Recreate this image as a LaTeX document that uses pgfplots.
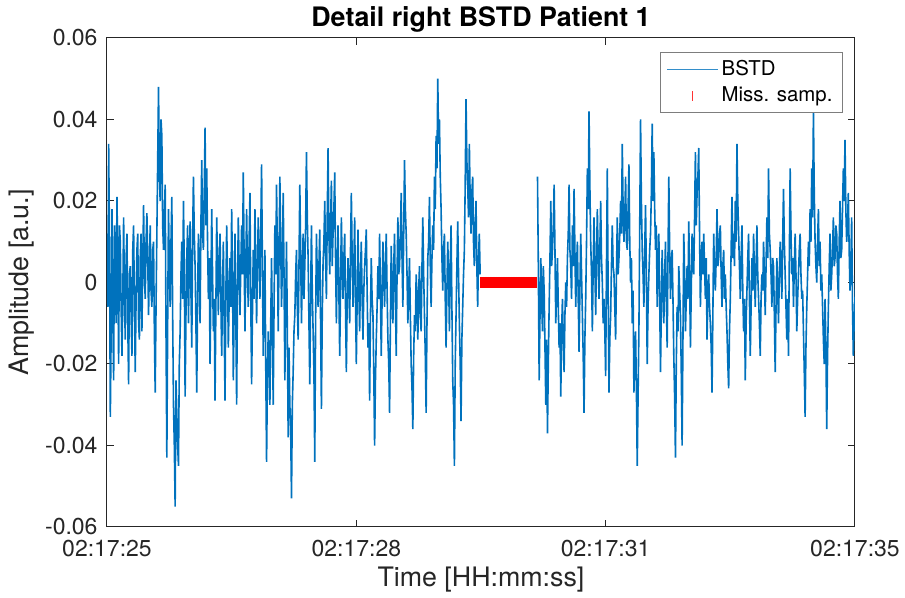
\documentclass[border=0pt]{standalone}
\usepackage{fontspec}
\setmainfont{TeX Gyre Heros}
\usepackage{pgfplots}
\usepackage{pgfplotstable}
\pgfplotsset{compat=1.18}

\definecolor{bstd}{rgb}{0,0.447,0.741}
\definecolor{axgray}{rgb}{0.15,0.15,0.15}

% BSTD samples before the dropout (100 Hz, starting at 02:17:25)
\pgfplotstableread[row sep=\\]{
v\\
0.012\\ -0.006\\ 0.034\\ 0.010\\ -0.033\\ -0.012\\ 0.018\\ -0.008\\ -0.024\\ 0.014\\ 0.008\\ -0.010\\ 0.021\\ 0.004\\ -0.020\\ 0.014\\ 0.010\\ -0.006\\ -0.018\\ -0.004\\
0.016\\ -0.004\\ -0.014\\ 0.006\\ 0.012\\ -0.010\\ -0.025\\ 0.002\\ 0.004\\ -0.008\\ -0.018\\ 0.008\\ 0.014\\ -0.006\\ -0.022\\ -0.004\\ 0.008\\ 0.012\\ -0.010\\ -0.014\\
0.006\\ 0.012\\ -0.012\\ 0.004\\ 0.019\\ 0.002\\ -0.004\\ 0.010\\ 0.017\\ 0.006\\ -0.008\\ 0.004\\ 0.014\\ -0.002\\ -0.006\\ 0.008\\ 0.010\\ -0.012\\ -0.027\\ -0.006\\
0.012\\ 0.030\\ 0.048\\ 0.026\\ 0.020\\ 0.040\\ 0.036\\ 0.014\\ 0.008\\ 0.016\\ 0.024\\ -0.012\\ -0.043\\ -0.010\\ 0.018\\ 0.004\\ -0.006\\ 0.010\\ 0.021\\ -0.008\\
-0.030\\ -0.040\\ -0.055\\ -0.024\\ -0.032\\ -0.040\\ -0.045\\ -0.020\\ -0.012\\ 0.002\\ 0.010\\ -0.004\\ 0.020\\ 0.004\\ -0.028\\ -0.008\\ 0.006\\ 0.014\\ -0.010\\ 0.004\\
0.015\\ -0.002\\ -0.016\\ 0.010\\ 0.026\\ 0.012\\ 0.004\\ -0.010\\ -0.027\\ -0.004\\ 0.012\\ 0.002\\ -0.010\\ 0.014\\ 0.030\\ 0.012\\ 0.008\\ 0.022\\ 0.038\\ 0.014\\
0.028\\ 0.010\\ -0.004\\ 0.006\\ -0.020\\ -0.002\\ 0.018\\ 0.002\\ -0.012\\ -0.004\\ -0.029\\ -0.006\\ 0.016\\ 0.004\\ -0.008\\ 0.006\\ 0.012\\ -0.004\\ -0.018\\ -0.002\\
0.010\\ -0.010\\ -0.029\\ -0.004\\ 0.014\\ 0.002\\ -0.016\\ -0.004\\ 0.006\\ -0.006\\ 0.018\\ 0.002\\ -0.024\\ -0.006\\ 0.012\\ -0.008\\ -0.030\\ -0.002\\ 0.016\\ 0.004\\
-0.008\\ 0.004\\ 0.014\\ 0.002\\ 0.027\\ 0.006\\ -0.012\\ 0.004\\ 0.018\\ 0.002\\ -0.006\\ 0.010\\ 0.022\\ -0.004\\ -0.025\\ -0.008\\ 0.008\\ -0.004\\ 0.018\\ 0.004\\
-0.010\\ 0.004\\ 0.016\\ 0.006\\ -0.004\\ 0.012\\ 0.029\\ 0.004\\ -0.018\\ -0.004\\ 0.008\\ -0.020\\ -0.044\\ -0.024\\ -0.012\\ -0.020\\ -0.030\\ -0.010\\ 0.006\\ -0.012\\
-0.030\\ -0.006\\ 0.014\\ 0.002\\ 0.024\\ 0.008\\ -0.012\\ 0.006\\ 0.026\\ 0.010\\ -0.006\\ 0.004\\ 0.022\\ 0.002\\ -0.024\\ -0.006\\ 0.010\\ -0.012\\ -0.038\\ -0.016\\
-0.030\\ -0.036\\ -0.053\\ -0.030\\ -0.022\\ -0.012\\ -0.008\\ 0.002\\ 0.008\\ -0.006\\ -0.014\\ 0.004\\ 0.024\\ 0.008\\ -0.010\\ 0.002\\ 0.012\\ -0.004\\ 0.004\\ 0.014\\
0.032\\ 0.016\\ 0.006\\ -0.010\\ -0.025\\ -0.004\\ 0.014\\ -0.002\\ -0.012\\ -0.022\\ -0.044\\ -0.010\\ 0.012\\ 0.002\\ -0.006\\ 0.004\\ 0.013\\ -0.010\\ -0.031\\ -0.008\\
0.005\\ 0.010\\ 0.020\\ 0.006\\ -0.004\\ 0.016\\ 0.033\\ 0.012\\ 0.002\\ 0.014\\ 0.025\\ 0.004\\ 0.012\\ 0.018\\ 0.027\\ 0.006\\ -0.010\\ 0.004\\ 0.014\\ -0.002\\
-0.018\\ -0.002\\ 0.016\\ 0.004\\ -0.004\\ 0.006\\ 0.012\\ -0.006\\ -0.022\\ -0.004\\ 0.006\\ -0.002\\ -0.010\\ 0.008\\ 0.022\\ 0.006\\ -0.006\\ 0.004\\ 0.016\\ -0.004\\
-0.020\\ -0.004\\ 0.013\\ -0.002\\ -0.012\\ 0.002\\ 0.010\\ -0.004\\ -0.014\\ -0.002\\ 0.004\\ 0.008\\ 0.013\\ -0.002\\ -0.016\\ -0.010\\ -0.029\\ -0.008\\ 0.006\\ -0.004\\
-0.008\\ -0.022\\ -0.040\\ -0.024\\ -0.014\\ -0.006\\ 0.004\\ -0.004\\ 0.012\\ -0.002\\ -0.018\\ -0.004\\ 0.010\\ 0.002\\ -0.006\\ 0.004\\ 0.012\\ -0.002\\ -0.014\\ -0.020\\
-0.032\\ -0.010\\ 0.009\\ -0.002\\ -0.010\\ 0.004\\ 0.012\\ -0.004\\ -0.018\\ 0.002\\ 0.016\\ 0.002\\ 0.004\\ 0.012\\ 0.022\\ 0.006\\ -0.006\\ 0.012\\ 0.030\\ 0.018\\
0.012\\ 0.002\\ -0.010\\ -0.002\\ 0.006\\ -0.008\\ -0.020\\ -0.026\\ -0.036\\ -0.018\\ -0.008\\ -0.012\\ 0.002\\ -0.004\\ -0.014\\ -0.002\\ 0.004\\ -0.008\\ -0.012\\ 0.004\\
0.016\\ 0.002\\ -0.008\\ -0.018\\ -0.032\\ -0.010\\ 0.006\\ 0.010\\ 0.021\\ 0.004\\ -0.006\\ 0.006\\ 0.014\\ 0.008\\ 0.026\\ 0.018\\ 0.036\\ 0.028\\ 0.050\\ 0.034\\
0.040\\ 0.026\\ 0.018\\ 0.006\\ -0.002\\ 0.008\\ 0.012\\ -0.004\\ -0.016\\ -0.002\\ 0.010\\ 0.002\\ -0.012\\ 0.004\\ 0.014\\ -0.006\\ -0.024\\ -0.030\\ -0.045\\ -0.020\\
-0.008\\ 0.004\\ 0.015\\ 0.002\\ -0.010\\ -0.020\\ -0.034\\ -0.014\\ -0.006\\ 0.002\\ 0.008\\ 0.024\\ 0.045\\ 0.030\\ 0.024\\ 0.016\\ 0.034\\ 0.020\\ 0.012\\ 0.022\\
0.026\\ 0.010\\ 0.004\\ 0.014\\ 0.020\\ 0.004\\ -0.006\\ 0.006\\ 0.012\\ 0.002\\
}\segA

% BSTD samples after the dropout
\pgfplotstableread[row sep=\\]{
v\\
0.026\\ 0.004\\ -0.024\\ -0.008\\ 0.006\\ -0.004\\ -0.012\\ 0.004\\ -0.002\\ -0.016\\ -0.030\\ -0.014\\ -0.037\\ -0.020\\ -0.006\\ 0.006\\ 0.020\\ 0.004\\ 0.008\\ 0.014\\
0.024\\ 0.008\\ -0.010\\ -0.002\\ 0.006\\ -0.006\\ -0.016\\ -0.010\\ -0.028\\ -0.012\\ -0.004\\ -0.014\\ -0.022\\ -0.008\\ 0.000\\ -0.006\\ 0.006\\ 0.012\\ 0.024\\ 0.008\\
0.004\\ -0.004\\ 0.014\\ 0.004\\ 0.023\\ 0.008\\ -0.006\\ 0.004\\ 0.010\\ -0.004\\ -0.017\\ -0.002\\ 0.012\\ 0.002\\ -0.008\\ -0.018\\ -0.032\\ -0.014\\ -0.004\\ 0.010\\
0.028\\ 0.018\\ 0.042\\ 0.024\\ 0.010\\ 0.002\\ -0.012\\ 0.004\\ 0.016\\ 0.004\\ -0.008\\ 0.006\\ 0.018\\ 0.006\\ -0.004\\ 0.008\\ 0.020\\ 0.006\\ 0.000\\ -0.010\\
-0.004\\ -0.012\\ -0.023\\ 0.004\\ 0.028\\ -0.002\\ -0.027\\ -0.014\\ -0.008\\ 0.004\\ 0.014\\ 0.004\\ 0.002\\ -0.006\\ -0.014\\ 0.002\\ 0.016\\ 0.002\\ 0.006\\ 0.012\\
0.020\\ 0.012\\ 0.034\\ 0.018\\ 0.010\\ 0.016\\ 0.026\\ 0.010\\ 0.008\\ 0.018\\ 0.029\\ 0.010\\ 0.000\\ 0.006\\ -0.010\\ -0.002\\ -0.027\\ -0.018\\ -0.012\\ -0.026\\
-0.045\\ -0.028\\ -0.012\\ 0.014\\ 0.040\\ 0.020\\ 0.008\\ 0.002\\ -0.006\\ 0.008\\ 0.019\\ 0.002\\ -0.020\\ -0.006\\ 0.002\\ 0.008\\ 0.012\\ 0.022\\ 0.039\\ 0.020\\
0.032\\ 0.018\\ 0.008\\ 0.014\\ -0.006\\ 0.002\\ 0.012\\ -0.004\\ -0.022\\ -0.006\\ 0.008\\ -0.002\\ -0.010\\ 0.002\\ 0.010\\ -0.004\\ -0.016\\ 0.006\\ 0.026\\ 0.008\\
-0.004\\ 0.004\\ 0.008\\ -0.004\\ -0.018\\ -0.028\\ -0.043\\ -0.020\\ -0.006\\ -0.012\\ 0.004\\ -0.002\\ -0.008\\ -0.022\\ -0.040\\ -0.014\\ 0.012\\ 0.002\\ -0.012\\ -0.004\\
0.004\\ -0.004\\ 0.015\\ 0.002\\ -0.016\\ -0.002\\ 0.012\\ 0.004\\ 0.002\\ 0.016\\ 0.032\\ 0.014\\ 0.022\\ 0.026\\ 0.033\\ 0.012\\ -0.006\\ 0.004\\ 0.010\\ 0.002\\
0.012\\ 0.004\\ -0.004\\ 0.006\\ -0.014\\ -0.004\\ 0.002\\ -0.006\\ -0.010\\ -0.016\\ -0.027\\ -0.008\\ 0.012\\ 0.002\\ -0.002\\ 0.006\\ 0.018\\ 0.004\\ 0.006\\ 0.012\\
0.014\\ 0.002\\ -0.006\\ 0.004\\ 0.008\\ -0.004\\ 0.002\\ -0.006\\ -0.012\\ -0.020\\ -0.026\\ -0.012\\ -0.004\\ 0.008\\ 0.021\\ 0.006\\ 0.012\\ 0.004\\ 0.020\\ 0.010\\
0.034\\ 0.020\\ 0.012\\ 0.004\\ -0.004\\ 0.006\\ 0.014\\ -0.002\\ -0.012\\ -0.004\\ -0.024\\ -0.010\\ -0.002\\ 0.006\\ 0.012\\ -0.004\\ -0.018\\ -0.006\\ 0.006\\ -0.002\\
0.012\\ 0.002\\ -0.006\\ 0.004\\ 0.014\\ 0.002\\ -0.004\\ -0.010\\ -0.018\\ -0.004\\ 0.002\\ -0.002\\ 0.010\\ 0.002\\ -0.008\\ 0.004\\ 0.016\\ 0.006\\ 0.028\\ 0.012\\
0.008\\ 0.002\\ -0.006\\ 0.006\\ 0.004\\ -0.008\\ -0.022\\ -0.006\\ 0.006\\ -0.002\\ -0.010\\ 0.002\\ 0.010\\ 0.004\\ -0.004\\ 0.010\\ 0.023\\ 0.010\\ 0.002\\ -0.006\\
-0.014\\ -0.004\\ -0.018\\ 0.006\\ 0.028\\ 0.012\\ 0.002\\ 0.006\\ -0.006\\ 0.004\\ 0.012\\ 0.002\\ -0.012\\ -0.004\\ 0.002\\ 0.008\\ 0.012\\ 0.002\\ -0.004\\ -0.002\\
-0.012\\ -0.022\\ -0.033\\ -0.016\\ -0.006\\ 0.002\\ 0.010\\ 0.004\\ 0.018\\ 0.010\\ 0.028\\ 0.016\\ 0.042\\ 0.022\\ 0.010\\ 0.004\\ 0.000\\ 0.010\\ 0.018\\ 0.004\\
0.010\\ -0.002\\ 0.002\\ -0.006\\ -0.014\\ -0.020\\ -0.004\\ -0.016\\ -0.036\\ -0.018\\ -0.006\\ 0.004\\ 0.012\\ -0.002\\ 0.002\\ 0.008\\ 0.016\\ 0.004\\ 0.006\\ 0.014\\
0.012\\ 0.002\\ -0.004\\ 0.010\\ 0.020\\ 0.006\\ 0.008\\ 0.018\\ 0.028\\ 0.020\\ 0.035\\ 0.018\\ 0.010\\ 0.014\\ 0.022\\ 0.008\\ -0.002\\ 0.004\\ 0.016\\ -0.006\\
-0.018\\ -0.010\\ -0.004\\ 0.002\\
}\segB

% Positions of the missing samples
\pgfplotstableread[row sep=\\]{
t v\\
4.50 0\\ 4.52 0\\ 4.54 0\\ 4.56 0\\ 4.58 0\\ 4.60 0\\ 4.62 0\\ 4.64 0\\ 4.66 0\\ 4.68 0\\
4.70 0\\ 4.72 0\\ 4.74 0\\ 4.76 0\\ 4.78 0\\ 4.80 0\\ 4.82 0\\ 4.84 0\\ 4.86 0\\ 4.88 0\\
4.90 0\\ 4.92 0\\ 4.94 0\\ 4.96 0\\ 4.98 0\\ 5.00 0\\ 5.02 0\\ 5.04 0\\ 5.06 0\\ 5.08 0\\
5.10 0\\ 5.12 0\\ 5.14 0\\ 5.16 0\\
}\missing

\begin{document}
\begin{tikzpicture}
\begin{axis}[
  at={(0,0)}, anchor=south west,
  scale only axis, width=374pt, height=244.5pt,
  xmin=0, xmax=9, ymin=-0.06, ymax=0.06,
  xtick={0,3,6,9},
  xticklabels={02:17:25,02:17:28,02:17:31,02:17:35},
  ytick={-0.06,-0.04,-0.02,0,0.02,0.04,0.06},
  yticklabels={-0.06,-0.04,-0.02,0,0.02,0.04,0.06},
  scaled y ticks=false,
  xtick pos=both, ytick pos=both, tick align=inside,
  major tick length=3.7pt,
  every tick/.style={axgray, line width=0.5pt},
  axis line style={axgray, line width=0.5pt},
  tick label style={font=\fontsize{11.5}{13}\selectfont, text=axgray},
  xticklabel style={yshift=-3pt},
  yticklabel style={xshift=-1.2pt},
  /pgf/number format/assume math mode=true,
  xlabel={Time [HH:mm:ss]},
  xlabel style={font=\fontsize{13.4}{16}\selectfont, text=axgray, at={(axis description cs:0.5,-0.1084)}, anchor=center},
  ylabel={Amplitude [a.u.]},
  ylabel style={font=\fontsize{13.4}{16}\selectfont, text=axgray, at={(axis description cs:-0.1136,0.5)}, anchor=center},
  legend style={at={(0.984,0.971)}, anchor=north east, draw=axgray!60, line width=0.5pt,
    font=\fontsize{10.2}{12}\selectfont, inner xsep=3pt, inner ysep=2pt},
  legend cell align=left,
]
\addplot[bstd, line width=0.8pt,
  legend image code/.code={\fill[draw=none, fill=bstd!80] (0pt,-0.3pt) rectangle (25.5pt,0.3pt);}]
  table[x expr=\coordindex*0.01, y=v] {\segA};
\addlegendentry{BSTD}
\addplot[bstd, line width=0.8pt, forget plot]
  table[x expr=5.18+\coordindex*0.01, y=v] {\segB};
\addplot[red, only marks, mark=|, mark size=2.75pt, mark options={line width=1.2pt},
  legend image code/.code={\path[draw=none] (0pt,0pt) -- (25.5pt,0pt);
    \fill[draw=none, fill=red!80] (12.45pt,-2.5pt) rectangle (13.05pt,2.5pt);}]
  table[x=t, y=v] {\missing};
\addlegendentry{Miss. samp.}
\end{axis}
% chart title, centred over the axis box (374pt x 244.5pt)
\node[anchor=base, inner sep=0pt, font=\fontsize{13.4}{16}\selectfont\bfseries]
  at (187pt,250pt) {Detail right BSTD Patient 1};
\pgfresetboundingbox
\useasboundingbox (-53.5pt,-35.5pt) rectangle (399pt,263.5pt);
\end{tikzpicture}
\end{document}
